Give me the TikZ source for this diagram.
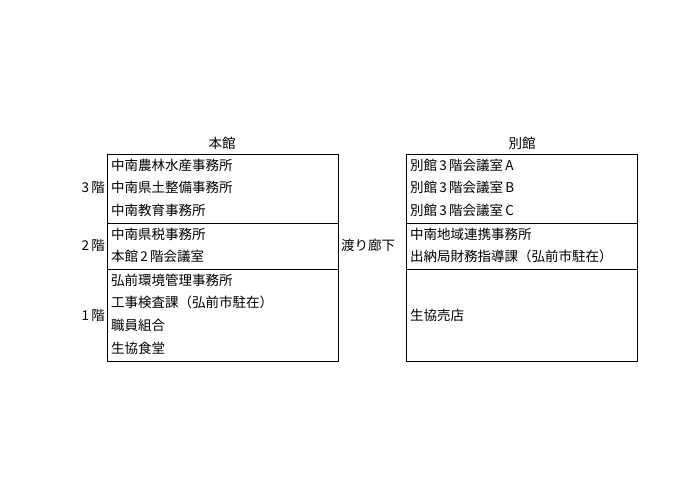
\documentclass[tikz,border=0pt]{standalone}
\usepackage{fontspec}
\setmainfont{Noto Sans CJK JP}
\begin{document}
\begin{tikzpicture}[x=1pt,y=-1pt,
  box/.style={draw,line width=0.8pt},
  row/.style={anchor=west,inner sep=0pt,font=\fontsize{13.5}{14}\selectfont},
  lab/.style={inner sep=0pt,font=\fontsize{13.5}{14}\selectfont}]
\useasboundingbox (0,0) rectangle (700,494);
\draw[box] (107,154) rectangle (338,361);
\draw[box] (107,223) -- (338,223) (107,269) -- (338,269);
\draw[box] (406,154) rectangle (637,361);
\draw[box] (406,223) -- (637,223) (406,269) -- (637,269);
\node[lab] (h1) at (222,143) {本館};
\node[lab] (h2) at (522,143) {別館};
\node[lab,anchor=east] (f3) at (105,187) {3\,階};
\node[lab,anchor=east] (f2) at (105,245) {2\,階};
\node[lab,anchor=east] (f1) at (105,315) {1\,階};
\node[lab] (w) at (368,245) {渡り廊下};
\node[row] (a1) at (111,165) {中南農林水産事務所};
\node[row] (a2) at (111,187) {中南県土整備事務所};
\node[row] (a3) at (111,210) {中南教育事務所};
\node[row] (a4) at (111,234) {中南県税事務所};
\node[row] (a5) at (111,256) {本館\,2\,階会議室};
\node[row] (a6) at (111,280) {弘前環境管理事務所};
\node[row] (a7) at (111,302) {工事検査課（弘前市駐在）};
\node[row] (a8) at (111,325) {職員組合};
\node[row] (a9) at (111,348) {生協食堂};
\node[row] (b1) at (410,165) {別館\,3\,階会議室\,A};
\node[row] (b2) at (410,187) {別館\,3\,階会議室\,B};
\node[row] (b3) at (410,210) {別館\,3\,階会議室\,C};
\node[row] (b4) at (410,234) {中南地域連携事務所};
\node[row] (b5) at (410,256) {出納局財務指導課（弘前市駐在）};
\node[row] (b6) at (410,315) {生協売店};
\end{tikzpicture}
\end{document}
